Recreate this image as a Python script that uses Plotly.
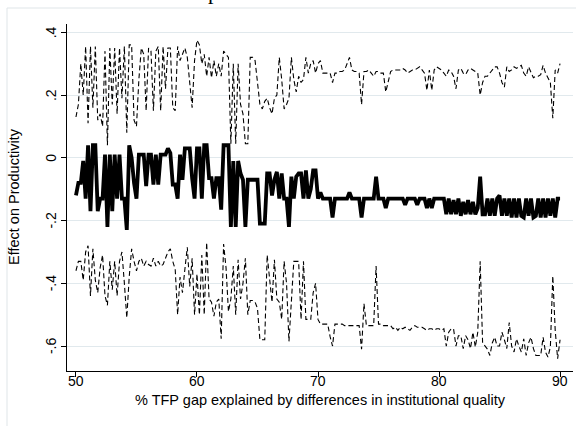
import plotly.graph_objects as go

# x grid: % TFP gap explained (50 to 90, step 0.2)
x_vals = [round(50 + 0.2 * i, 1) for i in range(201)]

# point estimate (solid)
effect = [
    -0.12, -0.08, -0.08, -0.01, -0.13, 0.04, -0.17, 0.04, 0.04, -0.17,
    -0.13, -0.13, 0.01, -0.22, 0.01, -0.17, 0.01, -0.13, 0.01, -0.13,
    -0.13, -0.23, 0.04, 0.0, -0.08, -0.13, 0.01, 0.01, 0.01, -0.09,
    0.01, 0.01, -0.085, 0.01, -0.085, 0.01, 0.01, 0.01, 0.03, 0.015,
    -0.085, -0.085, -0.13, 0.01, -0.07, 0.03, 0.03, 0.03, -0.065, -0.13,
    0.03, 0.03, -0.13, 0.04, 0.04, -0.065, -0.065, -0.13, -0.065, -0.065,
    -0.165, 0.04, 0.04, 0.04, -0.22, -0.01, -0.22, -0.01, -0.05, -0.07,
    -0.22, -0.07, -0.07, -0.07, -0.07, -0.07, -0.21, -0.21, -0.21, -0.05,
    -0.05, -0.12, -0.07, -0.045, -0.13, -0.05, -0.13, -0.13, -0.22, -0.06,
    -0.13, -0.06, -0.05, -0.05, -0.13, -0.04, -0.13, -0.10, -0.04, -0.04,
    -0.13, -0.11, -0.13, -0.13, -0.13, -0.13, -0.19, -0.13, -0.13, -0.13,
    -0.13, -0.13, -0.13, -0.11, -0.13, -0.13, -0.13, -0.13, -0.19, -0.13,
    -0.13, -0.13, -0.13, -0.13, -0.06, -0.13, -0.13, -0.13, -0.16, -0.13,
    -0.13, -0.13, -0.13, -0.13, -0.13, -0.13, -0.15, -0.13, -0.13, -0.13,
    -0.13, -0.15, -0.13, -0.13, -0.13, -0.16, -0.13, -0.16, -0.13, -0.13,
    -0.13, -0.13, -0.13, -0.18, -0.13, -0.18, -0.135, -0.18, -0.13, -0.185,
    -0.14, -0.18, -0.135, -0.18, -0.14, -0.18, -0.16, -0.06, -0.18, -0.18,
    -0.13, -0.185, -0.13, -0.185, -0.13, -0.12, -0.185, -0.13, -0.185, -0.13,
    -0.19, -0.13, -0.19, -0.13, -0.185, -0.19, -0.13, -0.185, -0.13, -0.19,
    -0.185, -0.13, -0.19, -0.13, -0.19, -0.13, -0.185, -0.13, -0.19, -0.13,
    -0.13,
]

# upper bound (dashed)
upper = [
    0.13, 0.17, 0.30, 0.20, 0.355, 0.11, 0.355, 0.16, 0.355, 0.12,
    0.14, 0.10, 0.34, 0.04, 0.35, 0.17, 0.35, 0.14, 0.35, 0.19,
    0.355, 0.08, 0.36, 0.36, 0.12, 0.10, 0.25, 0.35, 0.33, 0.15,
    0.35, 0.34, 0.15, 0.34, 0.355, 0.15, 0.355, 0.22, 0.35, 0.35,
    0.16, 0.15, 0.355, 0.31, 0.33, 0.35, 0.32, 0.25, 0.16, 0.31,
    0.375, 0.36, 0.30, 0.33, 0.26, 0.32, 0.255, 0.31, 0.26, 0.30,
    0.26, 0.34, 0.33, 0.32, 0.045, 0.30, 0.045, 0.30, 0.17, 0.14,
    0.045, 0.045, 0.32, 0.32, 0.31, 0.24, 0.17, 0.156, 0.18, 0.19,
    0.16, 0.14, 0.19, 0.20, 0.32, 0.25, 0.156, 0.17, 0.19, 0.32,
    0.25, 0.21, 0.26, 0.24, 0.25, 0.32, 0.27, 0.30, 0.31, 0.27,
    0.30, 0.31, 0.27, 0.27, 0.27, 0.27, 0.24, 0.27, 0.27, 0.275,
    0.275, 0.28, 0.30, 0.32, 0.28, 0.275, 0.275, 0.27, 0.17, 0.275,
    0.275, 0.28, 0.27, 0.26, 0.275, 0.275, 0.27, 0.27, 0.21, 0.24,
    0.275, 0.28, 0.28, 0.28, 0.28, 0.285, 0.28, 0.27, 0.275, 0.28,
    0.28, 0.285, 0.29, 0.28, 0.27, 0.215, 0.28, 0.215, 0.28, 0.29,
    0.285, 0.28, 0.27, 0.26, 0.28, 0.275, 0.26, 0.22, 0.28, 0.285,
    0.27, 0.265, 0.28, 0.285, 0.28, 0.275, 0.27, 0.20, 0.24, 0.26,
    0.26, 0.27, 0.28, 0.29, 0.29, 0.27, 0.24, 0.225, 0.29, 0.275,
    0.28, 0.29, 0.285, 0.29, 0.295, 0.27, 0.26, 0.29, 0.27, 0.255,
    0.26, 0.26, 0.265, 0.295, 0.27, 0.255, 0.24, 0.126, 0.28, 0.27,
    0.30,
]

# lower bound (dashed)
lower = [
    -0.36, -0.33, -0.33, -0.39, -0.30, -0.28, -0.44, -0.29, -0.39, -0.43,
    -0.35, -0.31, -0.44, -0.47, -0.33, -0.42, -0.33, -0.44, -0.33, -0.30,
    -0.40, -0.51, -0.38, -0.29, -0.33, -0.36, -0.33, -0.32, -0.345, -0.33,
    -0.34, -0.345, -0.32, -0.345, -0.33, -0.345, -0.34, -0.32, -0.30, -0.29,
    -0.33, -0.355, -0.50, -0.38, -0.43, -0.355, -0.285, -0.41, -0.32, -0.50,
    -0.37, -0.50, -0.31, -0.50, -0.27, -0.45, -0.46, -0.505, -0.46, -0.45,
    -0.577, -0.275, -0.35, -0.49, -0.45, -0.345, -0.50, -0.325, -0.45, -0.40,
    -0.32, -0.50, -0.455, -0.455, -0.46, -0.48, -0.58, -0.58, -0.58, -0.31,
    -0.38, -0.46, -0.325, -0.45, -0.46, -0.515, -0.33, -0.40, -0.585, -0.465,
    -0.33, -0.33, -0.33, -0.515, -0.33, -0.515, -0.515, -0.515, -0.43, -0.40,
    -0.515, -0.53, -0.53, -0.53, -0.53, -0.57, -0.60, -0.53, -0.53, -0.53,
    -0.53, -0.535, -0.535, -0.535, -0.535, -0.535, -0.535, -0.535, -0.61, -0.465,
    -0.535, -0.535, -0.535, -0.535, -0.345, -0.53, -0.53, -0.535, -0.535, -0.535,
    -0.535, -0.545, -0.54, -0.55, -0.54, -0.545, -0.54, -0.545, -0.55, -0.54,
    -0.535, -0.54, -0.54, -0.54, -0.545, -0.55, -0.545, -0.545, -0.55, -0.545,
    -0.545, -0.55, -0.545, -0.60, -0.556, -0.545, -0.545, -0.60, -0.567, -0.567,
    -0.608, -0.567, -0.58, -0.608, -0.556, -0.603, -0.556, -0.33, -0.59, -0.60,
    -0.61, -0.63, -0.59, -0.572, -0.60, -0.60, -0.556, -0.58, -0.608, -0.525,
    -0.60, -0.619, -0.577, -0.60, -0.619, -0.577, -0.63, -0.59, -0.572, -0.608,
    -0.63, -0.63, -0.63, -0.572, -0.62, -0.635, -0.603, -0.377, -0.55, -0.64,
    -0.58,
]

x_ticks = [50, 60, 70, 80, 90]
x_tick_labels = ["50", "60", "70", "80", "90"]
y_ticks = [-0.6, -0.4, -0.2, 0, 0.2, 0.4]
y_tick_labels = ["-.6", "-.4", "-.2", "0", ".2", ".4"]

x_title = "% TFP gap explained by differences in institutional quality"
y_title = "Effect on Productivity"
title_fragment = "p"

W, H = 576, 426
L, R, T, B = 67, 3, 24, 55
pw, ph = W - L - R, H - T - B


def px_x(p):
    return (p - L) / pw


def px_y(p):
    return (H - B - p) / ph


fig = go.Figure()
dash = "5px,3px"
fig.add_trace(go.Scatter(x=x_vals, y=upper, mode="lines",
                         line=dict(color="black", width=1.1, dash=dash),
                         showlegend=False, hoverinfo="skip"))
fig.add_trace(go.Scatter(x=x_vals, y=lower, mode="lines",
                         line=dict(color="black", width=1.1, dash=dash),
                         showlegend=False, hoverinfo="skip"))
fig.add_trace(go.Scatter(x=x_vals, y=effect, mode="lines",
                         line=dict(color="black", width=3.8),
                         showlegend=False, hoverinfo="skip"))

font = "Liberation Sans, Arial, sans-serif"
annotations = [
    dict(text=x_title, xref="paper", yref="paper",
         x=px_x(320), y=px_y(400), xanchor="center", yanchor="middle",
         showarrow=False, font=dict(size=14.5)),
    dict(text=y_title, xref="paper", yref="paper",
         x=px_x(14), y=px_y(197), xanchor="center", yanchor="middle",
         textangle=-90, showarrow=False, font=dict(size=14.5)),
    dict(text=title_fragment, xref="paper", yref="paper",
         x=px_x(213), y=px_y(6), xanchor="center", yanchor="bottom",
         showarrow=False,
         font=dict(family="Liberation Serif, Times New Roman, serif",
                   size=22)),
]
for v, lab in zip(y_ticks, y_tick_labels):
    annotations.append(dict(text=lab, xref="paper", yref="y",
                            x=px_x(51), y=v, xanchor="center",
                            yanchor="middle", textangle=-90,
                            showarrow=False, font=dict(size=14)))
for v, lab in zip(x_ticks, x_tick_labels):
    annotations.append(dict(text=lab, xref="x", yref="paper",
                            x=v, y=px_y(381), xanchor="center",
                            yanchor="middle", showarrow=False,
                            font=dict(size=14)))

fig.update_layout(
    width=W, height=H,
    margin=dict(l=L, r=R, t=T, b=B, pad=0),
    paper_bgcolor="white", plot_bgcolor="white",
    font=dict(family=font, size=14, color="black"),
    xaxis=dict(range=[49.26, 91.07], tickvals=x_ticks,
               showticklabels=False,
               showline=True, linecolor="black", linewidth=1,
               ticks="outside", ticklen=5, tickcolor="black", tickwidth=1,
               showgrid=False, zeroline=False),
    yaxis=dict(range=[-0.6795, 0.4265], tickvals=y_ticks,
               showticklabels=False,
               showline=True, linecolor="black", linewidth=1,
               ticks="outside", ticklen=5, tickcolor="black", tickwidth=1,
               showgrid=True, gridcolor="#e1e9ed", gridwidth=1,
               zeroline=False),
    annotations=annotations,
    shapes=[
        dict(type="line", xref="paper", yref="paper",
             x0=px_x(7), x1=px_x(7), y0=px_y(8), y1=px_y(426),
             line=dict(color="#dfe5e8", width=1)),
        dict(type="line", xref="paper", yref="paper",
             x0=px_x(7), x1=px_x(580), y0=px_y(8), y1=px_y(8),
             line=dict(color="#dfe5e8", width=1)),
    ],
)

fig.write_html("out.html")
